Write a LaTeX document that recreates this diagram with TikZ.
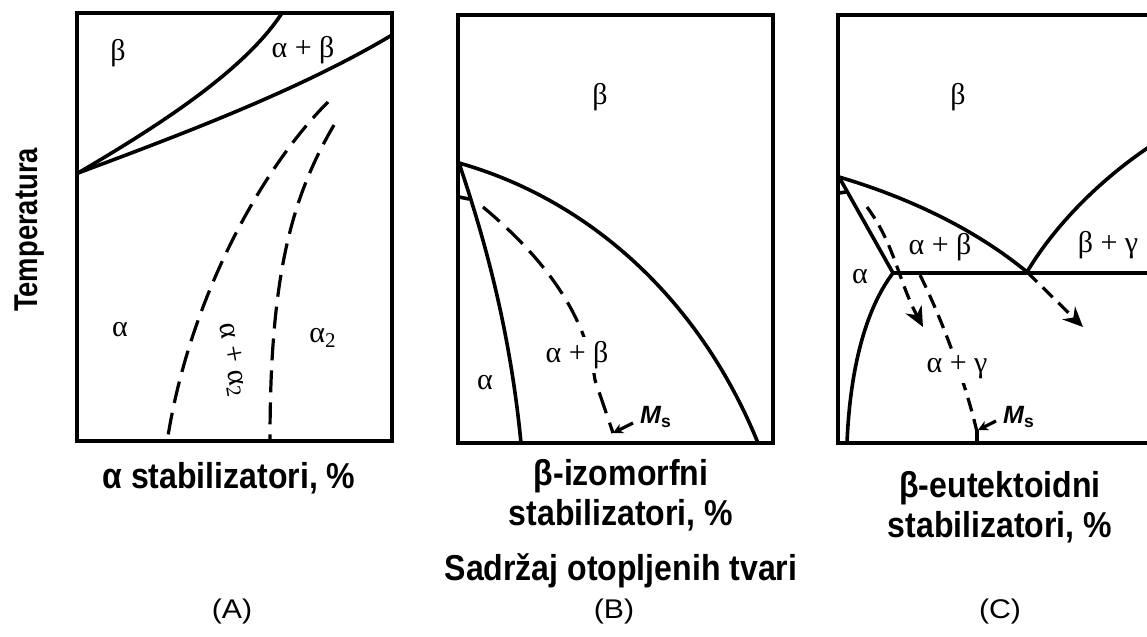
\documentclass[tikz,border=0pt]{standalone}
\usepackage{fontspec}
\setmainfont{Liberation Sans}
\newfontfamily\grk{Liberation Serif}
\newfontfamily\axfont[FakeStretch=0.89]{Liberation Sans}
\newfontfamily\tempfont[FakeStretch=0.83]{Liberation Sans}
\newfontfamily\panfont[FakeStretch=1.12]{Liberation Sans}
\usetikzlibrary{arrows.meta}
\tikzset{
  frame/.style={line width=2.2pt},
  phase/.style={line width=1.8pt},
  dsh/.style={line width=1.6pt, dash pattern=on 11pt off 5pt},
  dshC/.style={line width=1.6pt, dash pattern=on 7pt off 4pt},
  glab/.style={font=\grk\fontsize{15}{17}\selectfont, inner sep=1pt},
  axlab/.style={font=\axfont\bfseries\fontsize{18}{20}\selectfont, align=center},
  panlab/.style={font=\panfont\fontsize{13.5}{15}\selectfont},
  mslab/.style={font=\bfseries\fontsize{12.5}{14}\selectfont, inner sep=0pt},
  bigarr/.style={-{Stealth[length=10pt,width=9pt]}},
  smarr/.style={-{Stealth[length=5pt,width=5pt]}, line width=1.6pt}
}
\begin{document}
\begin{tikzpicture}[x=0.5pt,y=-0.5pt]
\useasboundingbox (0,0) rectangle (1147,637);
% ---------- Panel A ----------
\draw[frame] (77,13) rectangle (392,441);
\draw[phase] (78,173) .. controls (160,125) and (245,70) .. (282,13);
\draw[phase] (78,173) .. controls (180,135) and (300,90) .. (392,35);
\draw[dsh] (328,102) .. controls (260,170) and (190,300) .. (168,436);
\draw[dsh] (334,125) .. controls (290,200) and (270,280) .. (270,441);
\node[glab] (Ab) at (118,53) {β};
\node[glab] (Aab) at (303,50) {α + β};
\node[glab] (Aa) at (120,330) {α};
\node[glab] (Aa2) at (323,338) {α\textsubscript{2}};
\node[glab, rotate=-80] (Aaa2) at (232,360) {α + α\textsubscript{2}};
% ---------- Panel B ----------
\draw[frame] (458,15) rectangle (773,443);
\draw[phase] (459,163) .. controls (590,200) and (700,300) .. (758,443);
\draw[phase] (459,163) .. controls (485,240) and (510,330) .. (521,443);
\draw[phase] (459,197) -- (469,199);
\draw[dsh] (483,207) .. controls (540,255) and (585,310) .. (595,380) -- (613,433);
\node[glab, fill=white, inner sep=2pt] (Bab) at (577,355) {α + β};
\node[glab] (Bb) at (600,97) {β};
\node[glab] (Ba) at (485,383) {α};
\node[mslab] (Bms) at (656,417) {\itshape M\upshape\textsubscript{s}};
\coordinate (Bmsend) at (613,433);
\draw[smarr] (633,423) -- (Bmsend);
% ---------- Panel C ----------
\draw[frame] (1149,15) -- (838,15) -- (838,443) -- (1149,443);
\coordinate (Ctop) at (839,177);
\coordinate (Ccorner) at (893,273);
\coordinate (Ceut) at (1027,272);
\draw[phase] (Ctop) .. controls (900,195) and (970,225) .. (Ceut);
\draw[phase] (Ctop) -- (Ccorner);
\draw[phase] (Ccorner) -- (1149,273);
\draw[phase] (Ccorner) .. controls (865,310) and (850,370) .. (847,443);
\draw[phase] (Ceut) .. controls (1055,225) and (1100,180) .. (1149,147);
\draw[phase] (839,193) -- (846,192);
\coordinate (Carr1) at (923,327);
\coordinate (Carr2) at (1083,327);
\draw[dshC, bigarr] (867,207) .. controls (895,245) and (898,280) .. (Carr1);
\draw[dshC, bigarr] (Ceut) -- (Carr2);
\draw[dshC] (920,275) .. controls (940,315) and (965,380) .. (977,432);
\node[glab, fill=white, inner sep=2pt] (Cag) at (957,367) {α + γ};
\node[glab] (Cab) at (940,247) {α + β};
\node[glab] (Cbg) at (1108,245) {β + γ};
\node[glab] (Cb) at (958,97) {β};
\node[glab] (Ca) at (860,277) {α};
\draw[line width=1.6pt] (977,430) -- (977,443);
\node[mslab] (Cms) at (1019,417) {\itshape M\upshape\textsubscript{s}};
\coordinate (Cmsend) at (978,430);
\draw[smarr] (996,421) -- (Cmsend);
% ---------- Labels ----------
\node[font=\tempfont\bfseries\fontsize{16.5}{18}\selectfont, rotate=90] (T) at (30,230) {Temperatura};
\node[axlab] (xa) at (229,478) {α stabilizatori, \%};
\node[axlab] (xb) at (621,495) {β-izomorfni\\stabilizatori, \%};
\node[axlab] (xc) at (1000,507) {β-eutektoidni\\stabilizatori, \%};
\node[axlab] (xs) at (621,571) {Sadržaj otopljenih tvari};
\node[panlab] (pA) at (232,612) {(A)};
\node[panlab] (pB) at (614,612) {(B)};
\node[panlab] (pC) at (1000,612) {(C)};
\end{tikzpicture}
\end{document}
